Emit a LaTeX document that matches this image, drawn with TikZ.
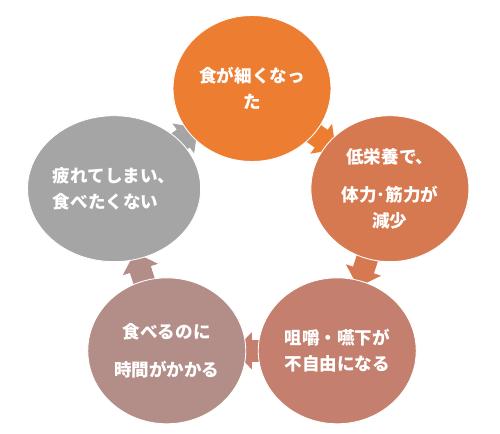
\documentclass[tikz,border=0pt]{standalone}
\usepackage{fontspec}
\setmainfont{Noto Sans CJK JP}
\usepackage{tikz}
\usetikzlibrary{arrows.meta,calc,shapes.geometric}
\pgfdeclarelayer{bg}
\pgfsetlayers{bg,main}
\definecolor{stepA}{HTML}{ED7D31}
\definecolor{stepB}{HTML}{D77950}
\definecolor{stepC}{HTML}{C57F6E}
\definecolor{stepD}{HTML}{B38D87}
\definecolor{stepE}{HTML}{A5A5A5}

\begin{document}
\begin{tikzpicture}[x=0.02cm, y=0.02cm,
  bubble/.style={ellipse, draw=white, line width=0.5pt, minimum width=3.16cm, minimum height=2.92cm,
    inner sep=0pt, align=center, text=white, font=\fontsize{10}{14.8}\selectfont\bfseries},
  flow/.style={line width=0.44cm, -{Triangle[length=0.36cm, width=0.72cm]}, shorten <=1cm, shorten >=1.34cm}]
  \useasboundingbox (0,0) rectangle (500,433);
  \coordinate (o) at (252,199.5);
  \node[bubble, fill=stepA] (eat) at ($(o)+(90:145)$) {食が細くなっ\\た};
  \node[bubble, fill=stepB] (weak) at ($(o)+(18:145)$) {低栄養で、\\[7pt]体力･筋力が\\減少};
  \node[bubble, fill=stepC] (swallow) at ($(o)+(-54:145)$) {咀嚼・嚥下が\\不自由になる};
  \node[bubble, fill=stepD] (slow) at ($(o)+(-126:145)$) {食べるのに\\[6.5pt]時間がかかる};
  \node[bubble, fill=stepE, align=left] (tired) at ($(o)+(162:145)$) {疲れてしまい、\\食べたくない};
  % arrows sit under the circles
  \begin{pgfonlayer}{bg}
    \draw[flow, stepA](eat.center)--(weak.center);
    \draw[flow, stepB](weak.center)--(swallow.center);
    \draw[flow, stepC](swallow.center)--(slow.center);
    \draw[flow, stepD](slow.center)--(tired.center);
    \draw[flow, stepE](tired.center)--(eat.center);
  \end{pgfonlayer}
\end{tikzpicture}
\end{document}
